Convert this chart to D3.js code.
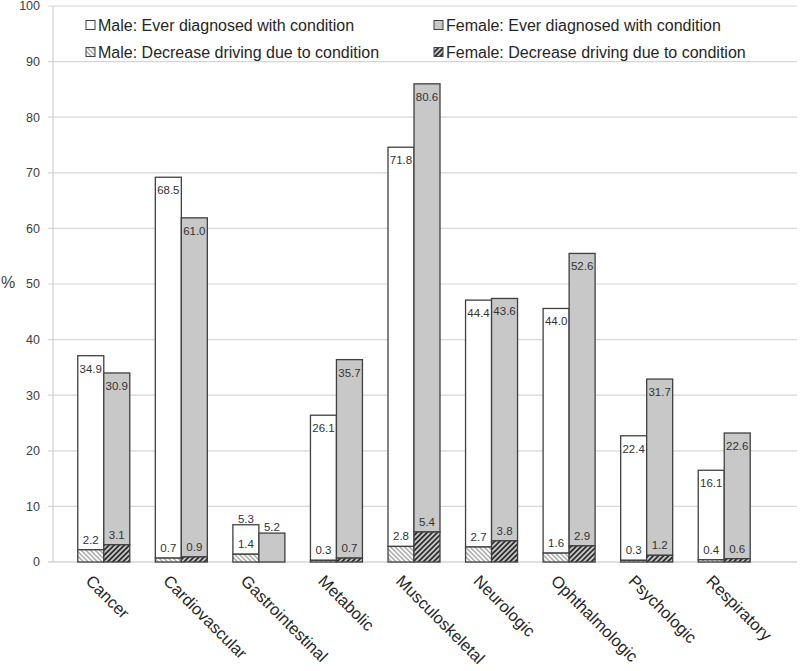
<!DOCTYPE html>
<html><head><meta charset="utf-8">
<script src="https://cdn.jsdelivr.net/npm/d3@7"></script>
<style>body{margin:0;background:#fff} text{font-family:"Liberation Sans",Arial,sans-serif}</style>
</head><body><svg id="c" width="800" height="671"></svg>
<script>
const categories = ["Cancer","Cardiovascular","Gastrointestinal","Metabolic","Musculoskeletal","Neurologic","Ophthalmologic","Psychologic","Respiratory"];
const maleEver = [34.9, 68.5, 5.3, 26.1, 71.8, 44.4, 44.0, 22.4, 16.1];
const femaleEver = [30.9, 61.0, 5.2, 35.7, 80.6, 43.6, 52.6, 31.7, 22.6];
const maleDecrease = [2.2, 0.7, 1.4, 0.3, 2.8, 2.7, 1.6, 0.3, 0.4];
const femaleDecrease = [3.1, 0.9, 0.0, 0.7, 5.4, 3.8, 2.9, 1.2, 0.6];
const yTicks = [0,10,20,30,40,50,60,70,80,90,100];
const legendLabels = ["Male: Ever diagnosed with condition","Female: Ever diagnosed with condition","Male: Decrease driving due to condition","Female: Decrease driving due to condition"];

const svg = d3.select("#c");
const y = d3.scaleLinear().domain([0,100]).range([562,6]);
const x = d3.scaleBand().domain(categories).range([65,763]);
const sub = d3.scaleBand().domain(["Male","Female"]).range([0,52]);
const off = (x.bandwidth()-52)/2;

const defs = svg.append("defs");
function hatch(id, angle, bg, stroke, sw, period){
  const p = defs.append("pattern").attr("id",id).attr("patternUnits","userSpaceOnUse")
    .attr("width",period).attr("height",period).attr("patternTransform",`rotate(${angle})`);
  p.append("rect").attr("width",period).attr("height",period).attr("fill",bg);
  p.append("line").attr("x1",period/2).attr("y1",0).attr("x2",period/2).attr("y2",period)
    .attr("stroke",stroke).attr("stroke-width",sw);
}
hatch("mh",-45,"#ffffff","#8a8a8a",1.1,3.3);
hatch("fh",45,"#c8c8c8","#111111",1.5,3.6);

const fills = {maleEver:"#ffffff", femaleEver:"#c8c8c8", maleDec:"url(#mh)", femaleDec:"url(#fh)"};

// gridlines
svg.append("g").selectAll("line").data(yTicks).join("line")
  .attr("x1",48).attr("x2",797).attr("y1",d=>y(d)).attr("y2",d=>y(d))
  .attr("stroke",d=>d===0?"#c0c0c0":"#d6d6d6").attr("stroke-width",1.2);
svg.append("line").attr("x1",53).attr("x2",53).attr("y1",y(100)).attr("y2",y(0))
  .attr("stroke","#cfcfcf").attr("stroke-width",1.2);
svg.append("g").selectAll("text").data(yTicks).join("text")
  .attr("x",40).attr("y",d=>y(d)).attr("dy","0.35em").attr("text-anchor","end")
  .attr("font-size",12.5).attr("fill","#404040").text(d=>d);
svg.append("text").attr("x",1).attr("y",288).attr("font-size",16).attr("fill","#404040").text("%");

// bars
const rows = [];
categories.forEach((c,i)=>{
  rows.push({c, g:"Male", dec:maleDecrease[i], ever:maleEver[i], decFill:fills.maleDec, everFill:fills.maleEver});
  rows.push({c, g:"Female", dec:femaleDecrease[i], ever:femaleEver[i], decFill:fills.femaleDec, everFill:fills.femaleEver});
});
const gb = svg.append("g");
rows.forEach(r=>{
  const x0 = x(r.c)+off+sub(r.g), w = sub.bandwidth();
  const total = r.dec + r.ever;
  gb.append("rect").attr("x",x0).attr("y",y(total)).attr("width",w).attr("height",y(r.dec)-y(total))
    .attr("fill",r.everFill).attr("stroke","#404040").attr("stroke-width",1.3);
  if(r.dec>0){
    gb.append("rect").attr("x",x0).attr("y",y(r.dec)).attr("width",w).attr("height",y(0)-y(r.dec))
      .attr("fill",r.decFill).attr("stroke","#404040").attr("stroke-width",1.3);
    gb.append("text").attr("x",x0+w/2).attr("y",y(r.dec)-10).attr("dy","0.35em")
      .attr("text-anchor","middle").attr("font-size",11.5).attr("fill","#333").text(r.dec.toFixed(1));
  }
  const ly = r.ever>=10 ? y(total)+13 : y(total)-6;
  gb.append("text").attr("x",x0+w/2).attr("y",ly).attr("dy","0.35em")
    .attr("text-anchor","middle").attr("font-size",11.5).attr("fill","#333").text(r.ever.toFixed(1));
});

// category labels
svg.append("g").selectAll("text").data(categories).join("text")
  .attr("transform",d=>`translate(${x(d)+x.bandwidth()/2-15},578) rotate(45)`)
  .attr("dy","0.35em").attr("font-size",16.5).attr("fill","#262626").text(d=>d);

// legend
const leg = [
  {t:legendLabels[0], f:fills.maleEver, x:86, y:25},
  {t:legendLabels[1], f:fills.femaleEver, x:434, y:25},
  {t:legendLabels[2], f:fills.maleDec, x:86, y:52},
  {t:legendLabels[3], f:fills.femaleDec, x:434, y:52}
];
const lg = svg.append("g");
leg.forEach(l=>{
  lg.append("rect").attr("x",l.x).attr("y",l.y-4.5).attr("width",9).attr("height",9)
    .attr("fill",l.f).attr("stroke","#404040").attr("stroke-width",1);
  lg.append("text").attr("x",l.x+12).attr("y",l.y).attr("dy","0.35em")
    .attr("font-size",16).attr("fill","#262626").text(l.t);
});
</script></body></html>
